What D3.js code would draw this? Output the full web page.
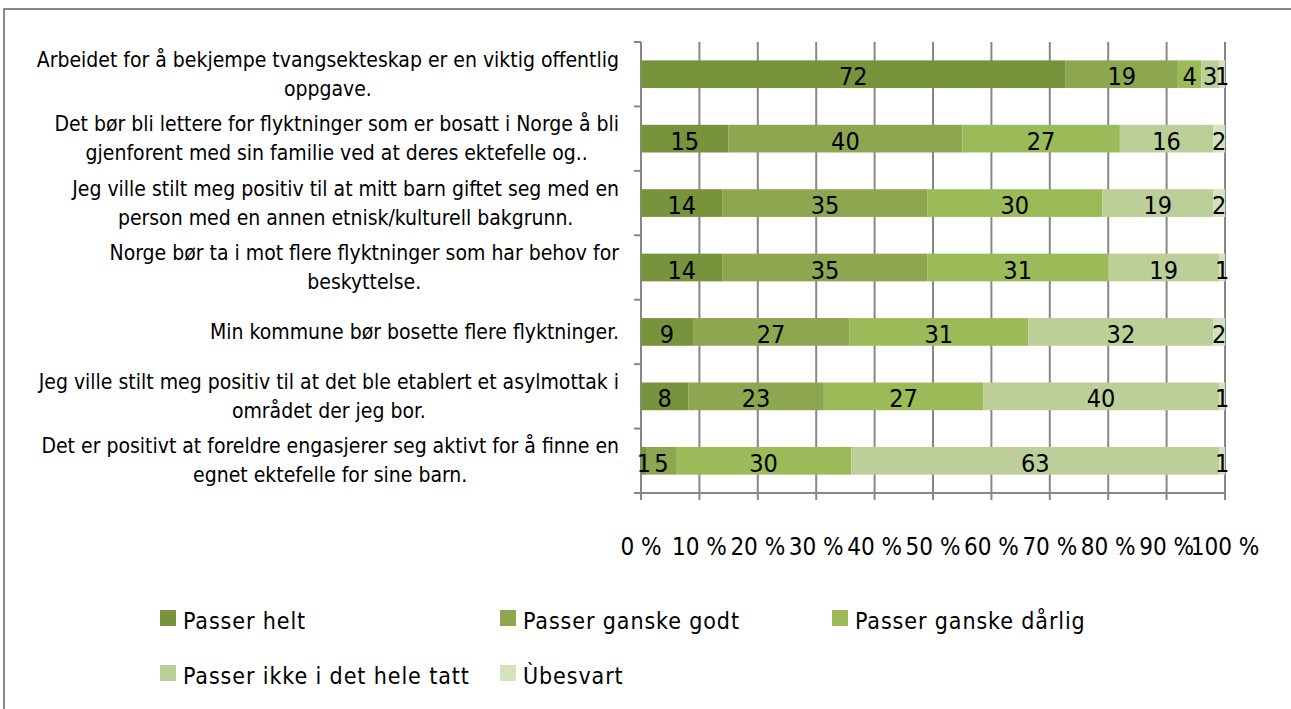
<!DOCTYPE html>
<html><head><meta charset="utf-8">
<script src="https://cdn.jsdelivr.net/npm/d3@7"></script>
<style>
html,body{margin:0;padding:0;background:#fff;}
svg{display:block;}
text{font-family:"DejaVu Sans Condensed","DejaVu Sans",sans-serif;fill:#000;}
</style></head>
<body>
<svg id="chart" width="1291" height="709"></svg>
<script>
const categories = [
  ["Arbeidet for å bekjempe tvangsekteskap er en viktig offentlig", "oppgave."],
  ["Det bør bli lettere for flyktninger som er bosatt i Norge å bli", "gjenforent med sin familie ved at deres ektefelle og.."],
  ["Jeg ville stilt meg positiv til at mitt barn giftet seg med en", "person med en annen etnisk/kulturell bakgrunn."],
  ["Norge bør ta i mot flere flyktninger som har behov for", "beskyttelse."],
  ["Min kommune bør bosette flere flyktninger."],
  ["Jeg ville stilt meg positiv til at det ble etablert et asylmottak i", "området der jeg bor."],
  ["Det er positivt at foreldre engasjerer seg aktivt for å finne en", "egnet ektefelle for sine barn."]
];
const seriesNames = ["Passer helt","Passer ganske godt","Passer ganske dårlig","Passer ikke i det hele tatt","Ùbesvart"];
const passerHelt        = [72, 15, 14, 14,  9,  8,  1];
const passerGanskeGodt  = [19, 40, 35, 35, 27, 23,  5];
const passerGanskeDarlig= [ 4, 27, 30, 31, 31, 27, 30];
const passerIkke        = [ 3, 16, 19, 19, 32, 40, 63];
const ubesvart          = [ 1,  2,  2,  1,  2,  1,  1];
const xTicks = [0,10,20,30,40,50,60,70,80,90,100];
const colors = ["#77933C","#8CA750","#9BBB59","#BCCF98","#D5E2C0"];

const seriesValues = [passerHelt, passerGanskeGodt, passerGanskeDarlig, passerIkke, ubesvart];

const svg = d3.select("#chart");
// outer border
svg.append("path").attr("d","M4,709 V9 H1291").attr("fill","none").attr("stroke","#898989").attr("stroke-width",2);

const x = d3.scaleLinear().domain([0,100]).range([641,1225]);
const y = d3.scaleBand().domain(d3.range(categories.length)).range([42,493]).paddingInner(0.57).paddingOuter(0.285);

// gridlines
const grid = svg.append("g");
grid.selectAll("line").data(xTicks).join("line")
  .attr("x1",d=>x(d)).attr("x2",d=>x(d)).attr("y1",42).attr("y2",500)
  .attr("stroke","#878787").attr("stroke-width",2);

// left axis with ticks at band boundaries
const step = (493-42)/categories.length;
svg.append("line").attr("x1",641).attr("x2",641).attr("y1",42).attr("y2",493).attr("stroke","#878787").attr("stroke-width",2);
svg.selectAll(".ytick").data(d3.range(categories.length+1)).join("line")
  .attr("x1",634).attr("x2",641).attr("y1",d=>42+d*step).attr("y2",d=>42+d*step)
  .attr("stroke","#878787").attr("stroke-width",2);
svg.append("line").attr("x1",641).attr("x2",1225).attr("y1",493).attr("y2",493).attr("stroke","#878787").attr("stroke-width",2);

// stacked normalized data
const rows = categories.map((c,i)=>{
  const vals = seriesValues.map(s=>s[i]);
  const tot = d3.sum(vals);
  let acc = 0;
  return vals.map((v,k)=>{ const s0 = acc/tot*100; acc += v; return {i,k,v,s0,s1:acc/tot*100}; });
});
const segs = rows.flat();

svg.append("g").selectAll("rect").data(segs).join("rect")
  .attr("x",d=>x(d.s0)).attr("width",d=>x(d.s1)-x(d.s0))
  .attr("y",d=>y(d.i)).attr("height",y.bandwidth())
  .attr("fill",d=>colors[d.k]);

svg.append("g").selectAll("text").data(segs).join("text")
  .attr("x",d=>(x(d.s0)+x(d.s1))/2).attr("y",d=>y(d.i)+y.bandwidth()/2+11)
  .attr("text-anchor","middle")
  .attr("font-size",25).text(d=>d.v);

// category labels
const labelRight = 619;
const lineH = 29;
const lg = svg.append("g").attr("font-size",21);
categories.forEach((lines,i)=>{
  const g = lg.append("g");
  const cy = y(i)+y.bandwidth()/2;
  const ts = lines.map((t,j)=>g.append("text").attr("text-anchor","middle")
     .attr("y", cy + 7 + (j-(lines.length-1)/2)*lineH).text(t));
  const w = d3.max(ts,t=>t.node().getComputedTextLength());
  ts.forEach(t=>t.attr("x", labelRight - w/2));
});

// x tick labels
svg.append("g").selectAll("text").data(xTicks).join("text")
  .attr("x",d=>x(d)).attr("y",555).attr("text-anchor","middle")
  .attr("font-size",24).text(d=>d+" %");

// legend
const legendPos = [[160,629],[500,629],[832,629],[160,684],[500,684]];
const leg = svg.append("g").selectAll("g").data(seriesNames).join("g")
  .attr("transform",(d,i)=>`translate(${legendPos[i][0]},${legendPos[i][1]})`);
leg.append("rect").attr("x",0).attr("y",-19).attr("width",16).attr("height",16).attr("fill",(d,i)=>colors[i]);
leg.append("text").attr("x",23).attr("y",0).attr("font-size",23).attr("letter-spacing",0.9).text(d=>d);
</script>
</body></html>
